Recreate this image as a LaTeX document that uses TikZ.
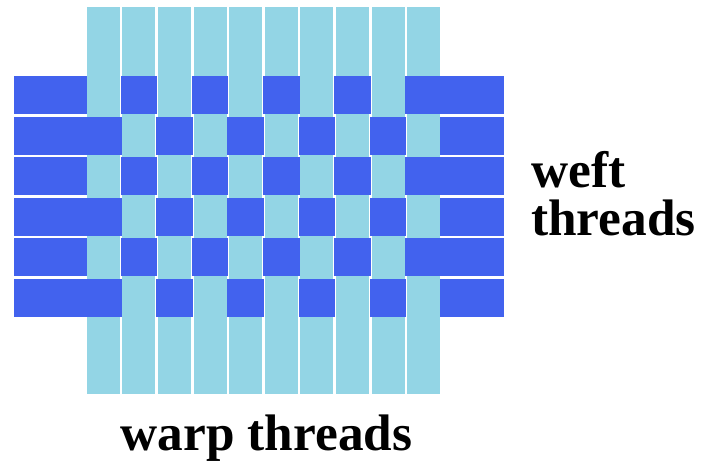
\documentclass[tikz,border=0pt]{standalone}
\usepackage{fontspec}
\setmainfont{Liberation Serif}
\usepackage{tikz}

\definecolor{warpblue}{RGB}{147,213,229}
\definecolor{weftblue}{RGB}{66,98,238}

\tikzset{
  warpstrip/.style={fill=warpblue},
  weftstrip/.style={fill=weftblue},
  threadlabel/.style={inner sep=0pt, font=\bfseries\fontsize{38.5}{36}\selectfont}
}

\begin{document}
\begin{tikzpicture}[x=0.75pt, y=-0.75pt]
		\useasboundingbox (0,0) rectangle (706,460);
		% warp threads
		\foreach \i in {0,...,9}
			\fill[warpstrip] ({86.7+35.6*\i},7.3) rectangle ++(33,387);
		% weft threads, over and under
		\foreach \j in {0,...,5} {
			\pgfmathsetmacro\rowtop{76+40.6*\j}
			\fill[weftstrip] (14,\rowtop) rectangle (86.7,{\rowtop+38});
			\fill[weftstrip] (440.1,\rowtop) rectangle (504,{\rowtop+38});
			\foreach \i in {0,...,9} {
				\pgfmathparse{int(mod(\i+\j,2))}
				\ifnum\pgfmathresult=1
					\fill[weftstrip] ({84.9+35.6*\i},\rowtop) rectangle ++(36.6,38);
				\fi
			}
		}
		\node[threadlabel, anchor=base] (warplabel) at (266.5,450) {warp threads};
		\node[threadlabel, anchor=base west, align=left] (weftlabel) at (531,235) {weft\\threads};
	\end{tikzpicture}
\end{document}
